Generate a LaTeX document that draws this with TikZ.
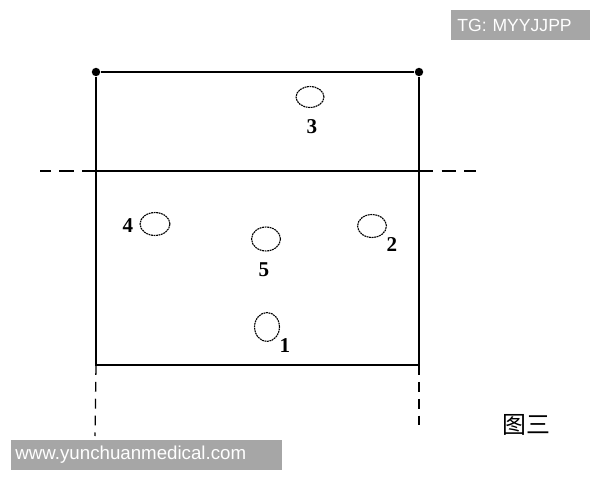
\documentclass[tikz,border=0pt]{standalone}
\usepackage{fontspec}
\setmainfont{Liberation Serif}
\newfontfamily\wmfont{Liberation Sans}
\newfontfamily\cjk{Noto Sans CJK SC}
\usetikzlibrary{shapes.geometric}
\def\px{0.709pt}
\def\holenode{\node[ellipse,draw=black,dash pattern=on 1.3pt off 0.5pt,line width=0.8pt,inner sep=0pt]}
\def\numnode{\node[font=\bfseries\fontsize{15}{15}\selectfont,inner sep=0pt]}
\def\dotnode{\node[circle,fill=black,inner sep=0pt,minimum size=6pt]}
\def\wmnode{\node[fill=black!35,text=white,font=\wmfont\fontsize{12.5}{12.5}\selectfont,inner sep=0pt,anchor=west]}
\def\drawext{\draw[line width=0.9pt,dash pattern=on 10pt off 6pt]}

\begin{document}
\begin{tikzpicture}[x=0.025cm,y=-0.025cm,line width=0.9pt]
\useasboundingbox (0,0) rectangle (600,480);
% frame
\dotnode (tl) at (96,72) {};
\dotnode (tr) at (419,72) {};
\coordinate (ml) at (96,171);
\coordinate (mr) at (419,171);
\coordinate (bl) at (96,365);
\coordinate (br) at (419,365);
\draw (tl) -- (tr);
\draw (tl) -- (bl) -- (br) -- (tr);
\draw (ml) -- (mr);
% extensions
\coordinate (el) at (40,171);
\coordinate (er) at (476,171);
\coordinate (ebl) at (95,436);
\coordinate (ebr) at (419,432);
\drawext (ml) -- (el);
\drawext (mr) -- (er);
\drawext[dash pattern=on 7pt off 5pt] (bl) -- (ebl);
\drawext[dash pattern=on 7pt off 5pt] (br) -- (ebr);
% holes
\holenode[minimum width=28*\px,minimum height=21*\px] (h3) at (310,97) {};
\holenode[minimum width=30*\px,minimum height=23*\px] (h4) at (155,224) {};
\holenode[minimum width=29*\px,minimum height=24*\px] (h5) at (266,239) {};
\holenode[minimum width=29*\px,minimum height=23*\px] (h2) at (372,226) {};
\holenode[minimum width=25*\px,minimum height=29*\px] (h1) at (267,327) {};
\numnode (n3) at (312,127) {3};
\numnode (n4) at (128,226) {4};
\numnode (n5) at (264,270) {5};
\numnode (n2) at (392,245) {2};
\numnode (n1) at (285,346) {1};
% caption
\node[font=\cjk\fontsize{17}{17}\selectfont,inner sep=0pt] (cap) at (526,425) {图三};
% watermarks
\wmnode[minimum width=140*\px,minimum height=30*\px,text width=132*\px] (tg) at (450,25) {\hspace*{2pt}TG: MYYJJPP};
\wmnode[minimum width=272*\px,minimum height=30*\px,text width=268*\px] (www) at (10,455) {\hspace*{2pt}\fontsize{13.3}{13.3}\selectfont www.yunchuanmedical.com};
\end{tikzpicture}
\end{document}
